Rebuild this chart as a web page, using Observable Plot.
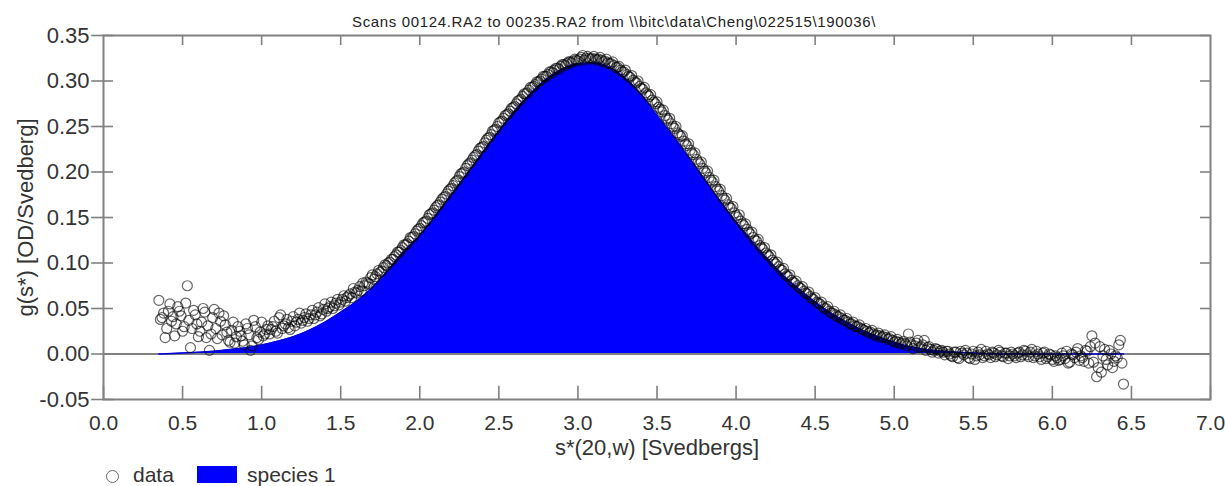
<!DOCTYPE html>
<html><head><meta charset="utf-8">
<script src="https://cdn.jsdelivr.net/npm/d3@7"></script>
<script src="https://cdn.jsdelivr.net/npm/@observablehq/plot@0.6"></script>
<style>
body{margin:0;background:#fff;font-family:"Liberation Sans",Arial,sans-serif;}
#wrap{position:relative;width:1225px;height:486px;overflow:hidden;}
#title{position:absolute;top:13px;left:352px;font-size:15px;letter-spacing:0.65px;color:#222;white-space:nowrap;}
#legend{position:absolute;top:463px;left:0;width:600px;height:26px;font-size:21px;color:#333;}
#legend .sym-c{position:absolute;left:106px;top:7px;width:11px;height:11px;border:1.5px solid #666;border-radius:50%;}
#legend .t1{position:absolute;left:133px;top:0px;}
#legend .sym-r{position:absolute;left:197px;top:3px;width:40px;height:17px;background:#0000ff;}
#legend .t2{position:absolute;left:247px;top:0px;}
</style></head><body>
<div id="wrap">
<div id="chart"></div>
<div id="title">Scans 00124.RA2 to 00235.RA2 from \\bitc\data\Cheng\022515\190036\</div>
<div id="legend"><span class="sym-c"></span><span class="t1">data</span><span class="sym-r"></span><span class="t2">species 1</span></div>
</div>
<script>
// fitted species 1 curve (s*, g(s*))
const fitX = [0.35,0.5,0.6,0.7,0.8,0.9,1.0,1.1,1.2,1.3,1.4,1.5,1.6,1.7,1.8,1.9,2.0,2.1,2.2,2.3,2.4,2.5,2.6,2.7,2.8,2.9,3.0,3.1,3.2,3.3,3.4,3.5,3.6,3.7,3.8,3.9,4.0,4.1,4.2,4.3,4.4,4.5,4.6,4.7,4.8,4.9,5.0,5.1,5.2,5.3,5.4,5.5,5.7,6.45];
const fitY = [0.000,0.001,0.002,0.003,0.005,0.007,0.010,0.014,0.019,0.026,0.035,0.046,0.058,0.073,0.092,0.113,0.130,0.152,0.175,0.198,0.222,0.245,0.267,0.286,0.302,0.313,0.319,0.320,0.315,0.303,0.285,0.262,0.240,0.216,0.192,0.168,0.145,0.124,0.104,0.086,0.071,0.057,0.045,0.035,0.026,0.019,0.013,0.008,0.005,0.003,0.002,0.001,0.000,0.000];

// scan data, set A: s* from 0.35 in steps of 0.02
const dataStartA = 0.35;
const dataStep = 0.02;
const dataYA = [
0.059,0.040,0.018,0.047,0.036,
0.020,0.052,0.042,0.030,0.075,
0.007,0.048,0.033,0.025,0.050,
0.018,0.004,0.040,0.028,0.045,
0.021,0.032,0.015,0.026,0.012,
0.030,0.020,0.010,0.028,0.004,
0.037,0.018,0.024,0.020,0.027,
0.022,0.030,0.025,0.040,0.028,
0.033,0.029,0.036,0.031,0.038,
0.034,0.040,0.036,0.043,0.039,
0.046,0.042,0.049,0.047,0.052,
0.050,0.056,0.054,0.060,0.058,
0.064,0.062,0.068,0.070,0.069,
0.075,0.078,0.084,0.082,0.088,
0.090,0.095,0.097,0.101,0.104,
0.109,0.112,0.117,0.120,0.124,
0.128,0.132,0.137,0.141,0.145,
0.149,0.154,0.158,0.163,0.167,
0.172,0.176,0.181,0.185,0.190,
0.195,0.199,0.204,0.209,0.213,
0.218,0.223,0.227,0.232,0.237,
0.241,0.246,0.250,0.255,0.259,
0.263,0.267,0.271,0.275,0.279,
0.283,0.286,0.290,0.293,0.296,
0.299,0.302,0.305,0.307,0.310,
0.312,0.314,0.316,0.318,0.319,
0.321,0.322,0.323,0.324,0.328,
0.325,0.325,0.325,0.324,0.324,
0.323,0.322,0.320,0.319,0.317,
0.315,0.312,0.310,0.307,0.304,
0.301,0.298,0.294,0.291,0.287,
0.283,0.279,0.275,0.271,0.266,
0.262,0.257,0.253,0.248,0.243,
0.239,0.234,0.229,0.224,0.219,
0.214,0.209,0.204,0.199,0.194,
0.189,0.184,0.179,0.174,0.169,
0.164,0.160,0.155,0.150,0.146,
0.141,0.137,0.132,0.128,0.124,
0.119,0.115,0.111,0.107,0.103,
0.099,0.096,0.092,0.088,0.085,
0.081,0.078,0.075,0.072,0.069,
0.066,0.063,0.060,0.057,0.055,
0.052,0.050,0.047,0.045,0.043,
0.041,0.039,0.037,0.035,0.033,
0.031,0.030,0.028,0.026,0.025,
0.024,0.022,0.021,0.020,0.019,
0.018,0.017,0.015,0.014,0.013,
0.012,0.011,0.022,0.010,0.009,
0.015,0.008,0.015,0.007,0.005,
0.004,0.005,0.003,0.002,0.003,
0.000,-0.003,0.002,-0.005,0.001,
0.004,-0.004,0.000,-0.006,0.002,
0.005,-0.002,0.000,-0.004,0.001,
-0.001,0.002,-0.003,0.001,-0.002,
0.000,-0.004,0.002,-0.001,0.003,
-0.003,0.005,-0.002,0.000,-0.006,
0.002,-0.003,-0.001,-0.008,-0.004,
-0.006,-0.002,0.003,-0.009,-0.001,
0.002,-0.007,-0.004,0.004,-0.010,
0.020,0.012,-0.015,-0.020,0.005,
-0.012,0.000,-0.008,-0.004,0.015,
-0.033
];

// scan data, set B: s* from 0.36 in steps of 0.02
const dataStartB = 0.36;
const dataYB = [
0.038,0.045,0.028,0.055,0.041,
0.033,0.047,0.025,0.056,0.037,
0.028,0.043,0.019,0.035,0.046,
0.031,0.022,0.049,0.017,0.036,
0.042,0.024,0.013,0.035,0.019,
0.025,0.014,0.033,0.021,0.009,
0.030,0.016,0.035,0.022,0.031,
0.027,0.036,0.023,0.043,0.031,
0.038,0.027,0.041,0.035,0.045,
0.037,0.044,0.039,0.048,0.043,
0.051,0.044,0.055,0.050,0.057,
0.053,0.060,0.057,0.064,0.062,
0.066,0.072,0.067,0.074,0.078,
0.079,0.077,0.087,0.085,0.092,
0.091,0.098,0.100,0.104,0.107,
0.112,0.114,0.120,0.121,0.128,
0.129,0.135,0.138,0.144,0.146,
0.153,0.155,0.161,0.164,0.170,
0.173,0.179,0.182,0.188,0.191,
0.198,0.200,0.207,0.210,0.216,
0.219,0.226,0.228,0.235,0.238,
0.245,0.247,0.254,0.256,0.262,
0.264,0.270,0.272,0.278,0.280,
0.286,0.287,0.293,0.294,0.299,
0.300,0.305,0.305,0.310,0.309,
0.314,0.313,0.318,0.317,0.321,
0.320,0.324,0.322,0.326,0.323,
0.327,0.324,0.327,0.323,0.326,
0.321,0.324,0.319,0.321,0.315,
0.316,0.310,0.312,0.305,0.306,
0.299,0.300,0.292,0.293,0.285,
0.285,0.277,0.277,0.269,0.268,
0.259,0.259,0.250,0.250,0.241,
0.240,0.231,0.231,0.221,0.221,
0.211,0.211,0.201,0.201,0.191,
0.191,0.181,0.181,0.171,0.171,
0.161,0.162,0.152,0.153,0.143,
0.143,0.134,0.134,0.125,0.126,
0.117,0.117,0.109,0.109,0.101,
0.101,0.093,0.094,0.086,0.087,
0.079,0.080,0.073,0.074,0.067,
0.068,0.061,0.062,0.056,0.057,
0.050,0.052,0.045,0.047,0.041,
0.043,0.037,0.039,0.033,0.035,
0.030,0.032,0.027,0.028,0.023,
0.026,0.020,0.023,0.018,0.021,
0.016,0.019,0.013,0.016,0.011,
0.014,0.009,0.013,0.006,0.012,
0.007,0.010,0.004,0.008,0.002,
0.006,0.001,0.004,-0.001,0.003,
-0.002,0.002,-0.004,0.003,-0.001,
0.001,-0.005,0.003,-0.002,-0.001,
-0.004,0.003,-0.001,0.002,-0.003,
0.004,-0.002,0.001,-0.005,0.002,
-0.002,0.001,-0.003,0.004,-0.001,
0.002,-0.004,0.003,-0.003,0.001,
-0.005,0.000,-0.006,-0.002,-0.007,
0.001,-0.005,-0.010,0.000,-0.004,
0.006,-0.002,-0.008,0.003,0.008,
-0.009,-0.025,0.008,-0.002,-0.006,
0.004,-0.015,-0.002,0.010,-0.010
];

const xTicks = [0,0.5,1,1.5,2,2.5,3,3.5,4,4.5,5,5.5,6,6.5,7];
const yTicks = [-0.05,0,0.05,0.1,0.15,0.2,0.25,0.3,0.35];
const xLabel = "s*(20,w) [Svedbergs]";
const yLabel = "g(s*) [OD/Svedberg]";

const data = [
  ...dataYA.map((y, i) => ({x: Math.round((dataStartA + i * dataStep) * 100) / 100, y})),
  ...dataYB.map((y, i) => ({x: Math.round((dataStartB + i * dataStep) * 100) / 100, y}))
];
const fit = fitX.map((x, i) => ({x, y: fitY[i]}));

const axisColor = "#808080";
const chart = Plot.plot({
  width: 1225,
  height: 486,
  marginTop: 35,
  marginBottom: 87,
  marginLeft: 103,
  marginRight: 15,
  style: {fontFamily: "'Liberation Sans', Arial, sans-serif", fontSize: "22px", color: "#333", background: "#fff", overflow: "visible"},
  x: {domain: [0, 7]},
  y: {domain: [-0.05, 0.35]},
  marks: [
    Plot.areaY(fit, {x: "x", y: "y", fill: "#0000ff", curve: "monotone-x"}),
    Plot.ruleY([0], {stroke: axisColor, strokeWidth: 1.8}),
    Plot.lineY(fit, {x: "x", y: "y", stroke: "#0000e0", strokeWidth: 1.5, curve: "monotone-x"}),
    Plot.dot(data, {x: "x", y: "y", r: 5, stroke: "#000", strokeOpacity: 0.6, strokeWidth: 1.2, fill: "none"}),
    Plot.frame({stroke: axisColor, strokeWidth: 2}),
    Plot.ruleX(xTicks, {y1: -0.05, y2: -0.0355, stroke: axisColor, strokeWidth: 1.6}),
    Plot.ruleX(xTicks.slice(1, -1), {y1: 0.35, y2: 0.339, stroke: axisColor, strokeWidth: 1.6}),
    Plot.ruleY(yTicks, {x1: -0.075, x2: 0.063, stroke: axisColor, strokeWidth: 1.6}),
    Plot.ruleY(yTicks, {x1: 6.937, x2: 7, stroke: axisColor, strokeWidth: 1.6}),
    Plot.axisX(xTicks, {tickSize: 0, tickPadding: 16, fontSize: 21, tickFormat: d => d.toFixed(1), label: null, fill: "#333"}),
    Plot.axisY(yTicks, {tickSize: 0, tickPadding: 14, tickFormat: d => d.toFixed(2), label: null, fill: "#333"}),
    Plot.text([xLabel], {frameAnchor: "bottom", dy: 55, fill: "#333"}),
    Plot.text([yLabel], {frameAnchor: "left", textAnchor: "middle", dx: -78, rotate: -90, fill: "#333"})
  ]
});
document.getElementById("chart").appendChild(chart);
</script>
</body></html>
